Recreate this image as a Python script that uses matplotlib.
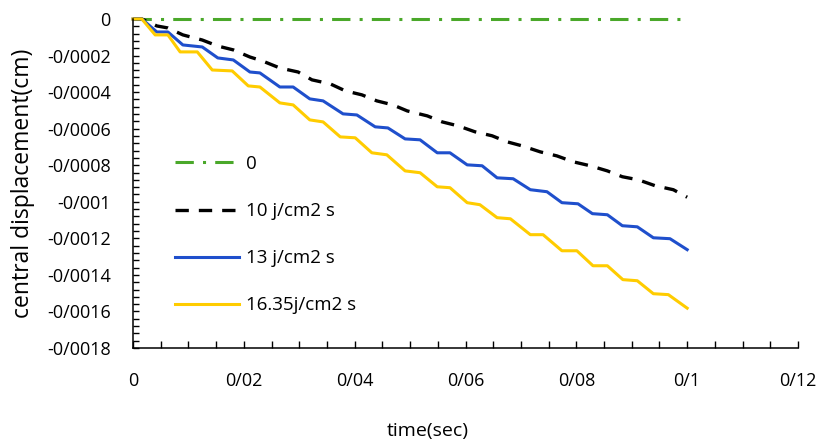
import numpy as np
import matplotlib
matplotlib.use('Agg')
import matplotlib.pyplot as plt
from matplotlib.ticker import MultipleLocator

plt.rcParams['font.family'] = ['Open Sans', 'DejaVu Sans']

# data (time in s, displacement in cm)
t_yellow = [0, 0.0016, 0.0040, 0.0063, 0.0085, 0.0116, 0.0143, 0.0179, 0.0208, 0.0229,
            0.0265, 0.0289, 0.0319, 0.0343, 0.0374, 0.0401, 0.0431, 0.0458, 0.0491, 0.0518,
            0.0549, 0.0572, 0.0603, 0.0626, 0.0657, 0.0681, 0.0717, 0.0740, 0.0774, 0.0801,
            0.0830, 0.0856, 0.0884, 0.0910, 0.0939, 0.0966, 0.1000]
d_yellow = [0, 0, -0.000087, -0.000087, -0.000180, -0.000180, -0.000279, -0.000284, -0.000366, -0.000372,
            -0.000459, -0.000470, -0.000552, -0.000563, -0.000645, -0.000650, -0.000732, -0.000743, -0.000831, -0.000841,
            -0.000918, -0.000923, -0.001005, -0.001016, -0.001087, -0.001093, -0.001180, -0.001180, -0.001268, -0.001268,
            -0.001350, -0.001350, -0.001426, -0.001432, -0.001503, -0.001508, -0.001582]

t_blue = [0, 0.0016, 0.0043, 0.0063, 0.0090, 0.0125, 0.0153, 0.0181, 0.0211, 0.0229,
          0.0265, 0.0289, 0.0319, 0.0343, 0.0379, 0.0404, 0.0437, 0.0460, 0.0491, 0.0518,
          0.0549, 0.0572, 0.0603, 0.0630, 0.0657, 0.0686, 0.0717, 0.0747, 0.0774, 0.0803,
          0.0829, 0.0856, 0.0883, 0.0910, 0.0939, 0.0969, 0.1000]
d_blue = [0, 0, -0.000071, -0.000071, -0.000142, -0.000153, -0.000213, -0.000224, -0.000290, -0.000295,
          -0.000372, -0.000372, -0.000437, -0.000448, -0.000519, -0.000525, -0.000590, -0.000596, -0.000656, -0.000661,
          -0.000732, -0.000732, -0.000798, -0.000803, -0.000869, -0.000874, -0.000934, -0.000945, -0.001005, -0.001011,
          -0.001065, -0.001071, -0.001131, -0.001137, -0.001197, -0.001202, -0.001262]

t_black = [0, 0.0016, 0.0043, 0.0063, 0.0090, 0.0125, 0.0153, 0.0181, 0.0211, 0.0233,
           0.0265, 0.0298, 0.0323, 0.0356, 0.0383, 0.0413, 0.0440, 0.0469, 0.0495, 0.0531,
           0.0558, 0.0587, 0.0617, 0.0648, 0.0675, 0.0702, 0.0735, 0.0765, 0.0794, 0.0825,
           0.0856, 0.0883, 0.0912, 0.0942, 0.0975, 0.1000]
d_black = [0, 0, -0.000038, -0.000049, -0.000087, -0.000115, -0.000148, -0.000169, -0.000208, -0.000229,
           -0.000268, -0.000290, -0.000333, -0.000355, -0.000393, -0.000415, -0.000448, -0.000470, -0.000503, -0.000530,
           -0.000563, -0.000585, -0.000617, -0.000639, -0.000672, -0.000694, -0.000727, -0.000749, -0.000781, -0.000803,
           -0.000831, -0.000863, -0.000880, -0.000912, -0.000934, -0.000975]

t_green = [0, 0.1]
d_green = [0, 0]

labels = ['0', '10 j/cm2 s', '13 j/cm2 s', '16.35j/cm2 s']

xticks = [0, 0.02, 0.04, 0.06, 0.08, 0.1, 0.12]
xticklabels = ['0', '0/02', '0/04', '0/06', '0/08', '0/1', '0/12']
yticks = [0, -0.0002, -0.0004, -0.0006, -0.0008, -0.001, -0.0012, -0.0014, -0.0016, -0.0018]
yticklabels = ['0', '-0/0002', '-0/0004', '-0/0006', '-0/0008', '-0/001', '-0/0012', '-0/0014', '-0/0016', '-0/0018']

fig = plt.figure(figsize=(8.19, 4.45), dpi=100)
ax = fig.add_axes([133/819, 1-348/445, 665/819, 329/445])

ax.plot(t_green, d_green, color='#4aa82a', lw=2.2, ls=(0, (6, 3, 1, 3)), clip_on=False, label=labels[0])
ax.plot(t_black, d_black, color='black', lw=2.4, ls=(0, (4, 3)), clip_on=False, label=labels[1])
ax.plot(t_blue, d_blue, color='#1f4fcc', lw=2.2, clip_on=False, label=labels[2])
ax.plot(t_yellow, d_yellow, color='#ffcc00', lw=2.2, clip_on=False, label=labels[3])

ax.set_xlim(0, 0.12)
ax.set_ylim(-0.0018, 0)
ax.set_xticks(xticks)
ax.set_xticklabels(xticklabels)
ax.set_yticks(yticks)
ax.set_yticklabels(yticklabels)
ax.xaxis.set_minor_locator(MultipleLocator(0.005))
ax.yaxis.set_minor_locator(MultipleLocator(0.00004))
ax.tick_params(axis='x', which='both', direction='in', length=5, width=1, labelsize=13, pad=17)
ax.tick_params(axis='y', which='both', direction='in', length=4, width=1, labelsize=13, pad=16)

for s in ['top', 'right']:
    ax.spines[s].set_visible(False)
for s in ['left', 'bottom']:
    ax.spines[s].set_linewidth(1.1)

ax.set_xlabel('time(sec)', fontsize=14)
ax.xaxis.set_label_coords((428-133)/665, -(422-348)/329)
ax.set_ylabel('central displacement(cm)', fontsize=16.5)
ax.yaxis.set_label_coords(-(133-35)/665, 0.5)

ax.legend(loc='upper left', bbox_to_anchor=(175/819, 1-155/445), bbox_transform=fig.transFigure,
          frameon=False, fontsize=13.5, handlelength=3.4, handletextpad=0.4, labelspacing=1.55,
          borderpad=0, borderaxespad=0)

fig.savefig('out.png', dpi=100)
